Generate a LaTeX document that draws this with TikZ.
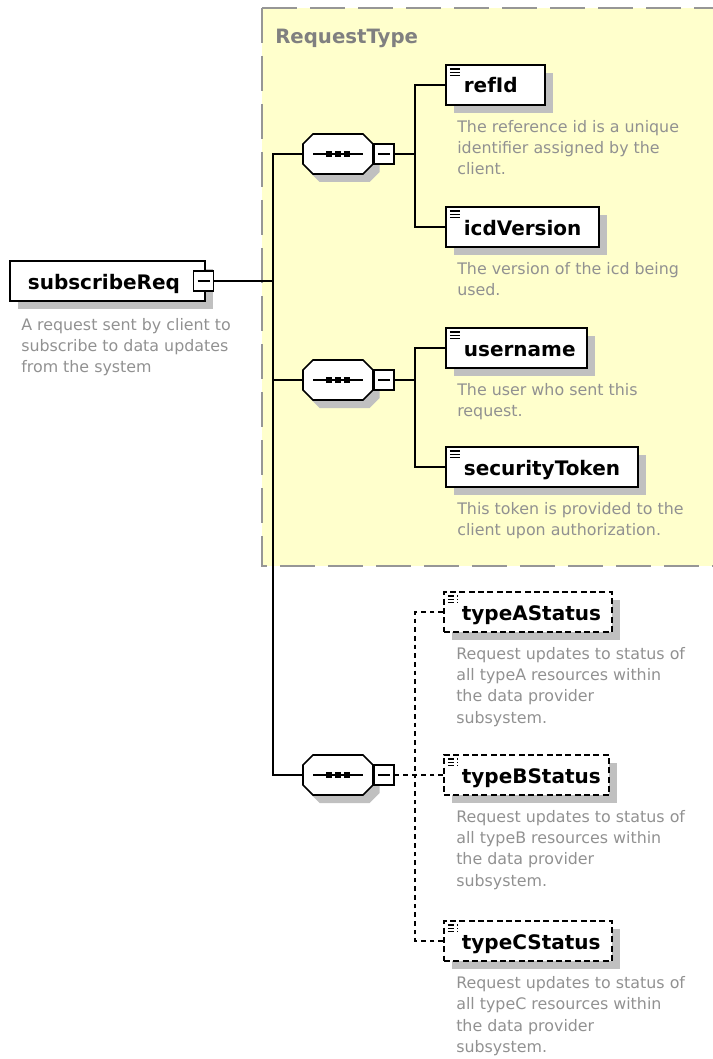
\documentclass[tikz,border=0pt]{standalone}
\usepackage{fontspec}
\setmainfont{DejaVu Sans}
\usetikzlibrary{shadows}

\definecolor{typebg}{RGB}{255,255,204}
\definecolor{typeedge}{RGB}{150,150,150}
\definecolor{typelabel}{RGB}{128,128,128}
\definecolor{shadowgray}{RGB}{192,192,192}
\definecolor{doccol}{RGB}{145,145,145}

\tikzset{
  conn/.style={line width=1.3pt, draw=black},
  optconn/.style={conn, dash pattern=on 3.5pt off 3pt},
  elem/.style={rectangle, draw=black, line width=1.3pt, fill=white, anchor=west,
    minimum height=30pt, inner xsep=5pt, inner ysep=0pt, align=left,
    text height=14pt, text depth=2pt,
    font=\bfseries\fontsize{15pt}{18pt}\selectfont,
    execute at begin node={\hspace*{8.5pt}},
    drop shadow={shadow xshift=6pt, shadow yshift=-6pt, fill=shadowgray, opacity=1}},
  withicon/.style={path picture={
    \foreach \dy in {-3pt,-5.5pt,-8pt}
      \draw[line width=0.9pt] ([xshift=3pt, yshift=\dy]path picture bounding box.north west) -- ++(7.5pt,0pt);}},
  optbox/.style={dash pattern=on 4.5pt off 2.5pt},
  seqanchor/.style={rectangle, draw=none, minimum width=52.5pt, minimum height=30pt, inner sep=0pt},
  octagon/.style={fill=white, draw=black, line width=1.3pt, line join=miter},
  minusbox/.style={rectangle, draw=black, line width=1.1pt, fill=white, minimum width=15pt, minimum height=15pt, inner sep=0pt,
    path picture={\draw[line width=1pt] ([xshift=-4.5pt]path picture bounding box.center) -- ([xshift=4.5pt]path picture bounding box.center);}},
  doc/.style={anchor=north west, inner sep=0pt, align=left, text=doccol, font=\fontsize{11.9pt}{16pt}\selectfont}
}

% sequence compositor: octagon with shadow and the "---" glyph
\newcommand\seqnode[2]{%
  \node[seqanchor] (#1) at #2 {};
  \fill[shadowgray] ([xshift=5pt,yshift=-6pt]#1.center) ++(-25,-20) -- ++(50,0) -- ++(10,10) -- ++(0,20)
     -- ++(-10,10) -- ++(-50,0) -- ++(-10,-10) -- ++(0,-20) -- cycle;
  \path[octagon] (#1.center) ++(-25,-20) -- ++(50,0) -- ++(10,10) -- ++(0,20)
     -- ++(-10,10) -- ++(-50,0) -- ++(-10,-10) -- ++(0,-20) -- cycle;
  \draw[line width=1.1pt] ([xshift=-18.75pt]#1.center) -- ([xshift=18.75pt]#1.center);
  \foreach \dx in {-6.75pt,0pt,6.75pt}
    \fill ([xshift=\dx]#1.center) +(-2.4pt,-2.4pt) rectangle +(2.4pt,2.4pt);
}

\begin{document}
\begin{tikzpicture}[x=0.75pt, y=-0.75pt]
\useasboundingbox (0,0) rectangle (713,1059);

% complex type area
\fill[typebg] (262,8) rectangle (713,566);
\draw[typeedge, line width=1.5pt, dash pattern=on 26pt off 10pt] (262,8) -- (713,8);
\draw[typeedge, line width=1.5pt, dash pattern=on 26pt off 10pt] (262,8) -- (262,566) -- (713,566);
\node[anchor=base west, inner sep=0pt, text=typelabel, font=\bfseries\fontsize{14.8pt}{17pt}\selectfont] (reqTypeLabel) at (275,44) {RequestType};

% root element
\node[elem, text width=136.25pt] (subscribeReq) at (9,281) {subscribeReq};
\node[minusbox] (subMin) at (203.5,281) {};
\node[doc] (subDoc) at (21,318) {A request sent by client to\\subscribe to data updates\\from the system};

% sequences
\seqnode{seq1}{(338,154)}
\seqnode{seq2}{(338,380)}
\seqnode{seq3}{(338,775)}
\node[minusbox, anchor=west] (seq1m) at (seq1.east) {};
\node[minusbox, anchor=west] (seq2m) at (seq2.east) {};
\node[minusbox, anchor=west] (seq3m) at (seq3.east) {};

% children of the first sequence
\node[elem, withicon, text width=64.25pt] (refId) at (445,85) {refId};
\node[doc] (refIdDoc) at (457,120) {The reference id is a unique\\identifier assigned by the\\client.};
\node[elem, withicon, text width=104.75pt] (icdVersion) at (445,227) {icdVersion};
\node[doc] (icdDoc) at (457,262) {The version of the icd being\\used.};

% children of the second sequence
\node[elem, withicon, text width=95.75pt] (username) at (445,348) {username};
\node[doc] (userDoc) at (457,383) {The user who sent this\\request.};
\node[elem, withicon, text width=134pt] (securityToken) at (445,467) {securityToken};
\node[doc] (tokenDoc) at (457,502) {This token is provided to the\\client upon authorization.};

% optional children of the third sequence
\node[elem, withicon, optbox, text width=116pt] (typeA) at (443,612) {typeAStatus};
\node[doc] (typeADoc) at (456,647) {Request updates to status of\\all typeA resources within\\the data provider\\subsystem.};
\node[elem, withicon, optbox, text width=113.75pt] (typeB) at (443,775) {typeBStatus};
\node[doc] (typeBDoc) at (456,810) {Request updates to status of\\all typeB resources within\\the data provider\\subsystem.};
\node[elem, withicon, optbox, text width=116pt] (typeC) at (443,941) {typeCStatus};
\node[doc] (typeCDoc) at (456,976) {Request updates to status of\\all typeC resources within\\the data provider\\subsystem.};

% connectors
\coordinate (trunk) at (273,281);
\coordinate (bus1) at (415,154);
\coordinate (bus2) at (415,380);
\coordinate (bus3) at (415,775);

\draw[conn] (subMin.east) -- (trunk);
\draw[conn] (seq1.west) -| (trunk);
\draw[conn] (seq2.west) -| (trunk);
\draw[conn] (seq3.west) -| (trunk);

\draw[conn] (seq1m.east) -- (bus1);
\draw[conn] (refId.west) -| (bus1);
\draw[conn] (icdVersion.west) -| (bus1);

\draw[conn] (seq2m.east) -- (bus2);
\draw[conn] (username.west) -| (bus2);
\draw[conn] (securityToken.west) -| (bus2);

\draw[optconn] (seq3m.east) -- (bus3);
\draw[optconn] (typeA.west) -| (bus3);
\draw[optconn] (typeB.west) -- (bus3);
\draw[optconn] (typeC.west) -| (bus3);
\end{tikzpicture}
\end{document}
